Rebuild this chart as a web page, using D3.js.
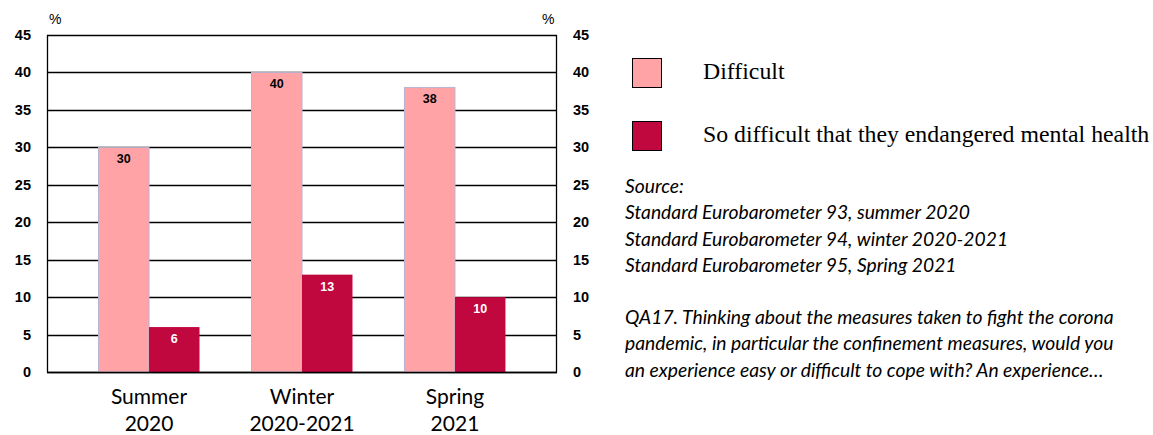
<!DOCTYPE html>
<html><head><meta charset="utf-8">
<script src="https://cdn.jsdelivr.net/npm/d3@7"></script>
<style>body{margin:0;background:#fff}svg{display:block}</style>
</head><body>
<svg id="c" width="1153" height="435"></svg>
<script>
const categories = [["Summer","2020"],["Winter","2020-2021"],["Spring","2021"]];
const seriesNames = ["Difficult","So difficult that they endangered mental health"];
const difficult = [30, 40, 38];
const mental = [6, 13, 10];
const yTicks = [0,5,10,15,20,25,30,35,40,45];
const sourceLines = ["Source:","Standard Eurobarometer 93, summer 2020","Standard Eurobarometer 94, winter 2020-2021","Standard Eurobarometer 95, Spring 2021"];
const questionLines = ["QA17. Thinking about the measures taken to fight the corona","pandemic, in particular the confinement measures, would you","an experience easy or difficult to cope with? An experience…"];
const colors = ["#FFA3A6","#C0073E"];

const svg = d3.select("#c");
const L=47, R=557, T=35, B=372;
const y = d3.scaleLinear().domain([0,45]).range([B,T]);
const x = d3.scaleBand().domain(categories.map((d,i)=>i)).range([L,R]).paddingInner(0.34).paddingOuter(0.337);
const xs = d3.scaleBand().domain([0,1]).range([0,x.bandwidth()]);

// grid
svg.append("g").selectAll("line").data(yTicks).join("line")
  .attr("x1",L).attr("x2",R).attr("y1",d=>Math.round(y(d))+0.5).attr("y2",d=>Math.round(y(d))+0.5)
  .attr("stroke","#000").attr("stroke-width",1.3);
svg.append("line").attr("x1",L+0.5).attr("x2",L+0.5).attr("y1",T).attr("y2",B+0.5).attr("stroke","#000").attr("stroke-width",1.3);
svg.append("line").attr("x1",R-0.5).attr("x2",R-0.5).attr("y1",T).attr("y2",B+0.5).attr("stroke","#000").attr("stroke-width",1.3);

const series=[difficult,mental];
series.forEach((vals,s)=>{
  svg.append("g").selectAll("rect").data(vals).join("rect")
    .attr("x",(d,i)=>x(i)+xs(s)).attr("width",xs.bandwidth())
    .attr("y",d=>y(d)).attr("height",d=>y(0)-y(d))
    .attr("fill",colors[s]).attr("stroke",s===0?"#B8B4D0":"none").attr("stroke-width",1);
  svg.append("g").selectAll("text").data(vals).join("text")
    .attr("x",(d,i)=>x(i)+xs(s)+xs.bandwidth()/2).attr("y",d=>y(d)+16)
    .attr("text-anchor","middle").attr("font-family","Liberation Sans, Arial").attr("font-weight","bold")
    .attr("font-size",12.5).attr("fill",s===0?"#000":"#fff").text(d=>d);
});
svg.append("line").attr("x1",L).attr("x2",R).attr("y1",B+0.5).attr("y2",B+0.5).attr("stroke","#000").attr("stroke-width",1.3);

// y axes labels
const ax = (xpos, anchor)=>svg.append("g").selectAll("text").data(yTicks).join("text")
  .attr("x",xpos).attr("y",d=>y(d)+5).attr("text-anchor",anchor)
  .attr("font-family","Liberation Sans, Arial").attr("font-weight","bold").attr("font-size",14.5).text(d=>d);
ax(31,"end"); ax(573,"start");
svg.append("text").attr("x",49).attr("y",24).attr("font-family","Liberation Sans, Arial").attr("font-size",14).text("%");
svg.append("text").attr("x",542).attr("y",24).attr("font-family","Liberation Sans, Arial").attr("font-size",14).text("%");

// category labels
categories.forEach((c,i)=>{
  const t=svg.append("text").attr("x",x(i)+x.bandwidth()/2).attr("text-anchor","middle")
    .attr("font-family","Lato, Carlito, Calibri, sans-serif").attr("font-size",21).attr("fill","#000");
  t.append("tspan").attr("x",x(i)+x.bandwidth()/2).attr("y",404).text(c[0]);
  t.append("tspan").attr("x",x(i)+x.bandwidth()/2).attr("y",431).text(c[1]);
});

// legend
seriesNames.forEach((n,i)=>{
  svg.append("rect").attr("x",632.5).attr("y",58.5+i*63).attr("width",29).attr("height",29)
    .attr("fill",colors[i]).attr("stroke","#000").attr("stroke-width",1);
  svg.append("text").attr("x",703).attr("y",79+i*63).attr("font-family","Liberation Serif, Times New Roman, serif")
    .attr("font-size",23.8).text(n);
});

// source text
const st=svg.append("g").attr("font-family","Lato, Carlito, Calibri, sans-serif").attr("font-style","italic").attr("font-size",19.3);
sourceLines.forEach((l,i)=>st.append("text").attr("x",625).attr("y",193+i*26.3).text(l));
questionLines.forEach((l,i)=>st.append("text").attr("x",625).attr("y",324+i*26.3).text(l));
</script>
</body></html>
